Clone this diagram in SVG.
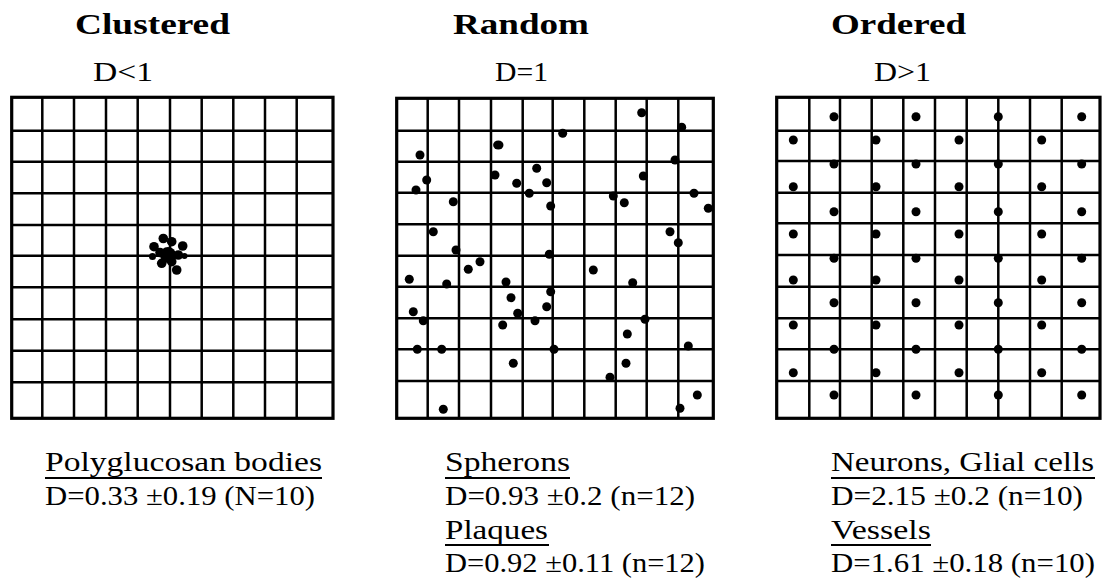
<svg xmlns="http://www.w3.org/2000/svg" width="1104" height="581" viewBox="0 0 1104 581">
<style>
.bg{fill:#fff}
.title{font-family:"Liberation Serif",serif;font-weight:bold;font-size:30px;fill:#000}
.dval{font-family:"Liberation Serif",serif;font-size:27px;fill:#000}
.lab{font-family:"Liberation Serif",serif;font-size:26.5px;fill:#000}
.inner{stroke:#000;stroke-width:2.5;fill:none}
.outer{stroke:#000;stroke-width:3.2;fill:none}
.ul{stroke:#000;stroke-width:1.8}
.dot{fill:#000}
</style>
<rect class="bg" x="0" y="0" width="1104" height="581"/>

<g id="clustered">
<text class="title" x="75" y="34" textLength="155" lengthAdjust="spacingAndGlyphs">Clustered</text>
<text class="dval" x="93" y="81" textLength="60" lengthAdjust="spacingAndGlyphs">D&lt;1</text>
<path class="inner" d="M42.3,97.3V418.3M74,97.3V418.3M106,97.3V418.3M137.7,97.3V418.3M170,97.3V418.3M201.7,97.3V418.3M233.3,97.3V418.3M265,97.3V418.3M296.7,97.3V418.3M11.7,130.7H333M11.7,161.7H333M11.7,193.3H333M11.7,225H333M11.7,255.7H333M11.7,287.3H333M11.7,319.3H333M11.7,350.7H333M11.7,382.3H333"/>
<rect class="outer" x="11.7" y="97.3" width="321.3" height="321"/>
<g class="dot">
<circle cx="168" cy="255" r="8"/>
<circle cx="163.3" cy="238.5" r="4.8"/>
<circle cx="171.7" cy="241.7" r="4.8"/>
<circle cx="154" cy="246.7" r="4.8"/>
<circle cx="182.7" cy="246" r="4.8"/>
<circle cx="160" cy="252.5" r="4.8"/>
<circle cx="178.3" cy="255" r="4.8"/>
<circle cx="152.5" cy="256.5" r="3.5"/>
<circle cx="161.7" cy="263.3" r="4.8"/>
<circle cx="171.7" cy="261.7" r="4.8"/>
<circle cx="176.7" cy="270" r="4.8"/>
<circle cx="184.5" cy="256" r="3"/>
</g>
<text class="lab" x="45" y="471" textLength="277" lengthAdjust="spacingAndGlyphs">Polyglucosan bodies</text>
<line class="ul" x1="45" y1="478" x2="322" y2="478"/>
<text class="lab" x="45" y="505" textLength="270" lengthAdjust="spacingAndGlyphs">D=0.33 ±0.19 (N=10)</text>
</g>

<g id="random">
<text class="title" x="453" y="34" textLength="136" lengthAdjust="spacingAndGlyphs">Random</text>
<text class="dval" x="495" y="81" textLength="53" lengthAdjust="spacingAndGlyphs">D=1</text>
<path class="inner" d="M427.7,98.3V418.3M459,98.3V418.3M491,98.3V418.3M522.7,98.3V418.3M552.7,98.3V418.3M584.3,98.3V418.3M615.7,98.3V418.3M646.7,98.3V418.3M678.3,98.3V418.3M396.7,130.7H713.3M396.7,161.7H713.3M396.7,192.7H713.3M396.7,224.3H713.3M396.7,255.7H713.3M396.7,286.7H713.3M396.7,318.3H713.3M396.7,349.3H713.3M396.7,381H713.3"/>
<rect class="outer" x="396.7" y="98.3" width="316.6" height="320"/>
<g class="dot">
<circle cx="641.7" cy="112.7" r="4.5"/>
<circle cx="681.7" cy="127.3" r="4.5"/>
<circle cx="562.7" cy="133.3" r="4.5"/>
<ellipse cx="498.3" cy="145" rx="5.2" ry="4.5"/>
<circle cx="420" cy="155" r="4.5"/>
<circle cx="675" cy="160" r="4.5"/>
<circle cx="536.7" cy="168.3" r="4.5"/>
<circle cx="495" cy="175" r="4.5"/>
<circle cx="426.7" cy="180" r="4.5"/>
<circle cx="643.3" cy="176" r="4.5"/>
<circle cx="516.7" cy="183.3" r="4.5"/>
<circle cx="546.7" cy="182.7" r="4.5"/>
<circle cx="416" cy="190" r="4.5"/>
<circle cx="529.3" cy="193.3" r="4.5"/>
<circle cx="694" cy="193.3" r="4.5"/>
<circle cx="453.3" cy="201.7" r="4.5"/>
<circle cx="613.3" cy="196" r="4.5"/>
<circle cx="624.3" cy="202.7" r="4.5"/>
<circle cx="550.7" cy="206" r="4.5"/>
<circle cx="708.3" cy="208.3" r="4.5"/>
<circle cx="433.3" cy="231.7" r="4.5"/>
<circle cx="670" cy="231.7" r="4.5"/>
<circle cx="678.3" cy="242.7" r="4.5"/>
<circle cx="456" cy="250" r="4.5"/>
<circle cx="549.3" cy="254.3" r="4.5"/>
<circle cx="480" cy="261.7" r="4.5"/>
<circle cx="468.3" cy="269.3" r="4.5"/>
<circle cx="593.3" cy="270" r="4.5"/>
<circle cx="409.3" cy="279.3" r="4.5"/>
<circle cx="446.7" cy="284" r="4.5"/>
<circle cx="506" cy="282" r="4.5"/>
<circle cx="632.7" cy="282.7" r="4.5"/>
<circle cx="550.7" cy="291.7" r="4.5"/>
<circle cx="511" cy="297.7" r="4.5"/>
<circle cx="546.7" cy="306.7" r="4.5"/>
<circle cx="413.3" cy="311.7" r="4.5"/>
<circle cx="517.7" cy="313.3" r="4.5"/>
<circle cx="423.3" cy="320.7" r="4.5"/>
<circle cx="535" cy="320.7" r="4.5"/>
<circle cx="502.7" cy="325" r="4.5"/>
<circle cx="645" cy="319.3" r="4.5"/>
<circle cx="627.3" cy="334" r="4.5"/>
<circle cx="417.3" cy="349.3" r="4.5"/>
<circle cx="441.7" cy="349.3" r="4.5"/>
<circle cx="554" cy="349.3" r="4.5"/>
<circle cx="688.3" cy="346" r="4.5"/>
<circle cx="513.3" cy="363.3" r="4.5"/>
<circle cx="626" cy="363.3" r="4.5"/>
<circle cx="610" cy="377.3" r="4.5"/>
<circle cx="697.3" cy="395" r="4.5"/>
<circle cx="680" cy="408.3" r="4.5"/>
<circle cx="443.3" cy="409.3" r="4.5"/>
</g>
<text class="lab" x="445" y="471" textLength="125" lengthAdjust="spacingAndGlyphs">Spherons</text>
<line class="ul" x1="445" y1="478" x2="570" y2="478"/>
<text class="lab" x="445" y="505" textLength="250" lengthAdjust="spacingAndGlyphs">D=0.93 ±0.2 (n=12)</text>
<text class="lab" x="445" y="538.5" textLength="103" lengthAdjust="spacingAndGlyphs">Plaques</text>
<line class="ul" x1="445" y1="545" x2="549" y2="545"/>
<text class="lab" x="445" y="572" textLength="260" lengthAdjust="spacingAndGlyphs">D=0.92 ±0.11 (n=12)</text>
</g>

<g id="ordered">
<text class="title" x="831" y="34" textLength="135" lengthAdjust="spacingAndGlyphs">Ordered</text>
<text class="dval" x="874" y="81" textLength="57" lengthAdjust="spacingAndGlyphs">D&gt;1</text>
<path class="inner" d="M809.3,97.3V418.3M840,97.3V418.3M871.7,97.3V418.3M903.3,97.3V418.3M935,97.3V418.3M966.7,97.3V418.3M998.3,97.3V418.3M1030,97.3V418.3M1061.7,97.3V418.3M776.7,130.7H1100M776.7,161H1100M776.7,192.7H1100M776.7,223.3H1100M776.7,255H1100M776.7,286.7H1100M776.7,318.3H1100M776.7,349.3H1100M776.7,381H1100"/>
<rect class="outer" x="776.7" y="97.3" width="323.3" height="321"/>
<g class="dot">
<circle cx="834" cy="116.7" r="4.5"/><circle cx="916" cy="116.7" r="4.5"/><circle cx="998.3" cy="116.7" r="4.5"/><circle cx="1081.7" cy="116.7" r="4.5"/>
<circle cx="793.3" cy="140" r="4.5"/><circle cx="876" cy="140" r="4.5"/><circle cx="959" cy="140" r="4.5"/><circle cx="1041.7" cy="140" r="4.5"/>
<circle cx="834" cy="164" r="4.5"/><circle cx="916" cy="164" r="4.5"/><circle cx="998.3" cy="164" r="4.5"/><circle cx="1081.7" cy="164" r="4.5"/>
<circle cx="793.3" cy="186.7" r="4.5"/><circle cx="876" cy="186.7" r="4.5"/><circle cx="959" cy="186.7" r="4.5"/><circle cx="1041.7" cy="186.7" r="4.5"/>
<circle cx="834" cy="211.7" r="4.5"/><circle cx="916" cy="211.7" r="4.5"/><circle cx="998.3" cy="211.7" r="4.5"/><circle cx="1081.7" cy="211.7" r="4.5"/>
<circle cx="793.3" cy="234" r="4.5"/><circle cx="876" cy="234" r="4.5"/><circle cx="959" cy="234" r="4.5"/><circle cx="1041.7" cy="234" r="4.5"/>
<circle cx="834" cy="258.3" r="4.5"/><circle cx="916" cy="258.3" r="4.5"/><circle cx="998.3" cy="258.3" r="4.5"/><circle cx="1081.7" cy="258.3" r="4.5"/>
<circle cx="793.3" cy="280" r="4.5"/><circle cx="876" cy="280" r="4.5"/><circle cx="959" cy="280" r="4.5"/><circle cx="1041.7" cy="280" r="4.5"/>
<circle cx="834" cy="302.7" r="4.5"/><circle cx="916" cy="302.7" r="4.5"/><circle cx="998.3" cy="302.7" r="4.5"/><circle cx="1081.7" cy="302.7" r="4.5"/>
<circle cx="793.3" cy="325" r="4.5"/><circle cx="876" cy="325" r="4.5"/><circle cx="959" cy="325" r="4.5"/><circle cx="1041.7" cy="325" r="4.5"/>
<circle cx="834" cy="349.3" r="4.5"/><circle cx="916" cy="349.3" r="4.5"/><circle cx="998.3" cy="349.3" r="4.5"/><circle cx="1081.7" cy="349.3" r="4.5"/>
<circle cx="793.3" cy="372.7" r="4.5"/><circle cx="876" cy="372.7" r="4.5"/><circle cx="959" cy="372.7" r="4.5"/><circle cx="1041.7" cy="372.7" r="4.5"/>
<circle cx="834" cy="395" r="4.5"/><circle cx="916" cy="395" r="4.5"/><circle cx="998.3" cy="395" r="4.5"/><circle cx="1081.7" cy="395" r="4.5"/>
</g>
<text class="lab" x="831" y="471" textLength="263" lengthAdjust="spacingAndGlyphs">Neurons, Glial cells</text>
<line class="ul" x1="831" y1="478" x2="1095" y2="478"/>
<text class="lab" x="831" y="505" textLength="252" lengthAdjust="spacingAndGlyphs">D=2.15 ±0.2 (n=10)</text>
<text class="lab" x="831" y="538.5" textLength="100" lengthAdjust="spacingAndGlyphs">Vessels</text>
<line class="ul" x1="831" y1="545" x2="931" y2="545"/>
<text class="lab" x="831" y="572" textLength="264" lengthAdjust="spacingAndGlyphs">D=1.61 ±0.18 (n=10)</text>
</g>
</svg>
